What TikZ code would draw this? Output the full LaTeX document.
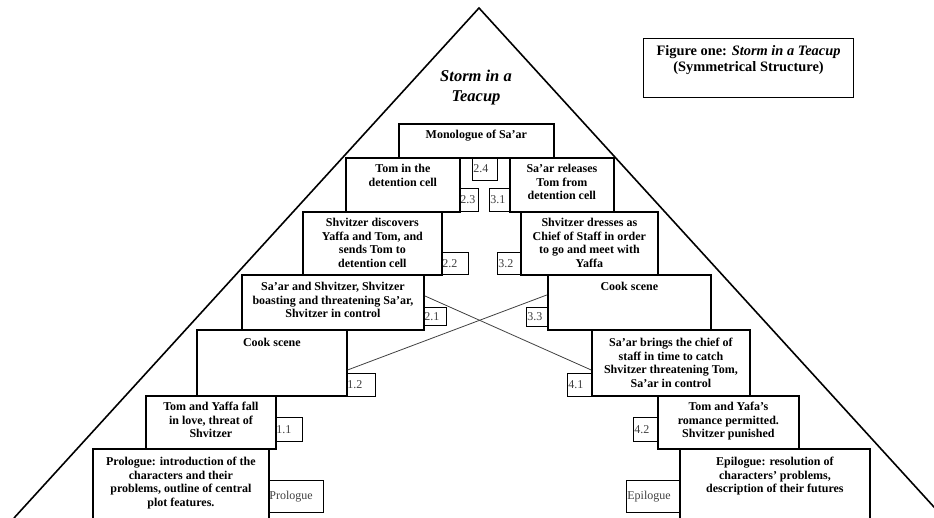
\documentclass[tikz,border=0pt]{standalone}
\usepackage{fontspec}
\setmainfont{Liberation Serif}
\usetikzlibrary{positioning}

\tikzset{
    scene/.style={draw, line width=1.8pt, anchor=north west, inner sep=0pt},
    scenetext/.style={align=center, inner sep=0pt, font=\bfseries\fontsize{12}{13.6}\selectfont},
    numbox/.style={draw, line width=0.7pt, anchor=north west, inner xsep=1pt, inner ysep=0pt, align=left, text=black!75, font=\fontsize{12}{13}\selectfont},
    cross/.style={draw, line width=0.8pt, black!75},
}

\begin{document}
\begin{tikzpicture}[x=1pt, y=-1pt]
    \useasboundingbox (0, 0) rectangle (934, 518);
    \clip (0, 0) rectangle (934, 518);

    \coordinate (apex) at (479, 8);
    \coordinate (baseL) at (14, 518);
    \coordinate (baseR) at (944, 518);
    \path[draw, line width=1.6pt] (baseL) -- (apex) -- (baseR);

    \node at (476, 70) (title) [anchor=north, align=center, inner sep=0pt, font=\bfseries\itshape\fontsize{16.5}{19.5}\selectfont] {Storm in a\\Teacup};

    \node at (643, 38) (figbox) [scene, line width=1pt, minimum width=210pt, minimum height=59pt] {};
    \node (figtext) [scenetext, below=7.5pt of figbox.north, font=\bfseries\fontsize{14.4}{15.5}\selectfont] {Figure one: \textit{Storm in a Teacup}\\(Symmetrical Structure)};

    % scene numbers
    \node at (472, 157) (n24) [numbox, text width=23pt, minimum height=23pt] {2.4};
    \node at (459, 188) (n23) [numbox, text width=17pt, minimum height=23pt] {2.3};
    \node at (489, 188) (n31) [numbox, text width=18pt, minimum height=23pt] {3.1};
    \node at (441, 252) (n22) [numbox, text width=25pt, minimum height=22pt] {2.2};
    \node at (497, 252) (n32) [numbox, text width=21pt, minimum height=22pt] {3.2};
    \node at (423, 307) (n21) [numbox, text width=21pt, minimum height=18pt] {2.1};
    \node at (526, 307) (n33) [numbox, text width=19pt, minimum height=19pt] {3.3};
    \node at (346, 373) (n12) [numbox, text width=27pt, minimum height=23pt] {1.2};
    \node at (567, 373) (n41) [numbox, text width=22pt, minimum height=23pt] {4.1};
    \node at (275, 417) (n11) [numbox, text width=25pt, minimum height=24pt] {1.1};
    \node at (633, 417) (n42) [numbox, text width=22pt, minimum height=24pt] {4.2};
    \node at (268, 480) (nprol) [numbox, text width=53pt, minimum height=32pt] {Prologue};
    \node at (626, 480) (nepil) [numbox, text width=51pt, minimum height=32pt] {Epilogue};

    % scenes
    \node at (398, 123) (monologue) [scene, minimum width=155pt, minimum height=34pt] {};
    \node at (345, 157) (tomcell) [scene, minimum width=114pt, minimum height=54pt] {};
    \node at (509, 157) (releases) [scene, minimum width=104pt, minimum height=54pt] {};
    \node at (302, 211) (discovers) [scene, minimum width=139pt, minimum height=63pt] {};
    \node at (520, 211) (dresses) [scene, minimum width=137pt, minimum height=63pt] {};
    \node at (241, 274) (boasting) [scene, minimum width=182pt, minimum height=55pt] {};
    \node at (547, 274) (cookR) [scene, minimum width=163pt, minimum height=55pt] {};
    \node at (196, 329) (cookL) [scene, minimum width=150pt, minimum height=66pt] {};
    \node at (591, 329) (brings) [scene, minimum width=158pt, minimum height=66pt] {};
    \node at (145, 395) (fallinlove) [scene, minimum width=130pt, minimum height=53pt] {};
    \node at (657, 395) (romance) [scene, minimum width=141pt, minimum height=53pt] {};
    \node at (92, 448) (prologue) [scene, minimum width=176pt, minimum height=90pt] {};
    \node at (679, 448) (epilogue) [scene, minimum width=190pt, minimum height=90pt] {};

    \node (monologuetext) [scenetext, below=7pt of monologue.north] {Monologue of Sa’ar};
    \node (tomcelltext) [scenetext, below=7pt of tomcell.north] {Tom in the\\detention cell};
    \node (releasestext) [scenetext, below=7pt of releases.north] {Sa’ar releases\\Tom from\\detention cell};
    \node (discoverstext) [scenetext, below=7pt of discovers.north] {Shvitzer discovers\\Yaffa and Tom, and\\sends Tom to\\detention cell};
    \node (dressestext) [scenetext, below=7pt of dresses.north] {Shvitzer dresses as\\Chief of Staff in order\\to go and meet with\\Yaffa};
    \node (boastingtext) [scenetext, below=8pt of boasting.north] {Sa’ar and Shvitzer, Shvitzer\\boasting and threatening Sa’ar,\\Shvitzer in control};
    \node (cookRtext) [scenetext, below=8pt of cookR.north] {Cook scene};
    \node (cookLtext) [scenetext, below=9pt of cookL.north] {Cook scene};
    \node (bringstext) [scenetext, below=9pt of brings.north] {Sa’ar brings the chief of\\staff in time to catch\\Shvitzer threatening Tom,\\Sa’ar in control};
    \node (fallinlovetext) [scenetext, below=7pt of fallinlove.north] {Tom and Yaffa fall\\in love, threat of\\Shvitzer};
    \node (romancetext) [scenetext, below=7pt of romance.north] {Tom and Yafa’s\\romance permitted.\\Shvitzer punished};
    \node (prologuetext) [scenetext, below=9pt of prologue.north] {Prologue: introduction of the\\characters and their\\problems, outline of central\\plot features.};
    \node (epiloguetext) [scenetext, below=9pt of epilogue.north] {Epilogue: resolution of\\characters’ problems,\\description of their futures};

    % the crossing links
    \path[cross] ([yshift=6.5pt]boasting.east) -- ([yshift=-7pt]brings.west);
    \path[cross] ([yshift=-7pt]cookL.east) -- ([yshift=7.5pt]cookR.west);

\end{tikzpicture}
\end{document}
